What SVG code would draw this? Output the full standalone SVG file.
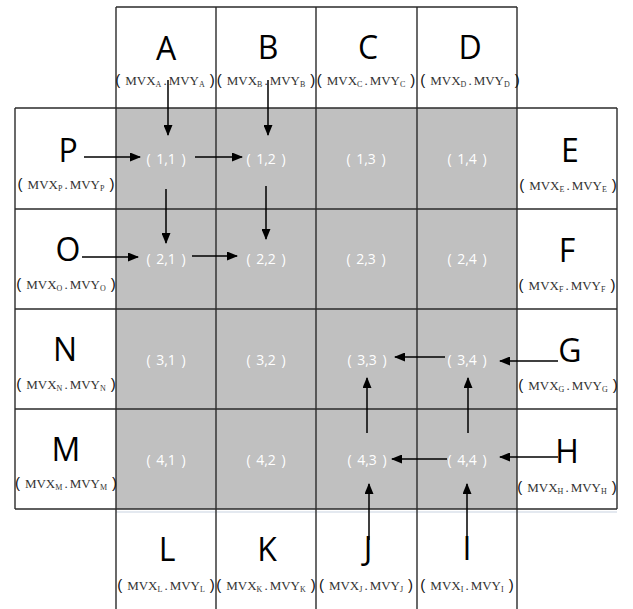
<svg xmlns="http://www.w3.org/2000/svg" width="633" height="609" viewBox="0 0 633 609">
<style>
.big{font-family:"Open Sans","Noto Sans",sans-serif;font-size:32px;fill:#000;text-anchor:middle}
.sub{font-family:"Liberation Serif","Times New Roman",serif;font-size:13px;fill:#333;text-anchor:middle}
.s{font-size:8px}
.p{font-family:"Liberation Sans",sans-serif;font-size:15px;fill:#111}
.cell{font-family:"Open Sans","Noto Sans",sans-serif;font-size:14px;fill:#fff;text-anchor:middle;word-spacing:2px}
.grid{stroke:#2a2a2a;stroke-width:1.4;fill:none}
.arr{stroke:#000;stroke-width:1.5;fill:none;marker-end:url(#ah)}
</style>
<defs>
<marker id="ah" markerUnits="userSpaceOnUse" markerWidth="11" markerHeight="9" refX="10" refY="4.5" orient="auto">
<path d="M0,0 L11,4.5 L0,9 Z" fill="#000"/>
</marker>
</defs>
<rect x="0" y="0" width="633" height="609" fill="#fff"/>
<rect x="116" y="108" width="401" height="401" fill="#c0c0c0"/>
<line x1="116" y1="512" x2="617" y2="512" stroke="#e4e9f0" stroke-width="2"/>
<g id="gridlines" class="grid">
<line x1="116" y1="7" x2="517" y2="7"/>
<line x1="15" y1="108" x2="617" y2="108"/>
<line x1="15" y1="209" x2="617" y2="209"/>
<line x1="15" y1="309" x2="617" y2="309"/>
<line x1="15" y1="409" x2="617" y2="409"/>
<line x1="15" y1="509" x2="617" y2="509"/>
<line x1="116" y1="7" x2="116" y2="609"/>
<line x1="216" y1="7" x2="216" y2="609"/>
<line x1="316" y1="7" x2="316" y2="609"/>
<line x1="417" y1="7" x2="417" y2="609"/>
<line x1="517" y1="7" x2="517" y2="609"/>
<line x1="15" y1="108" x2="15" y2="509"/>
<line x1="617" y1="108" x2="617" y2="509"/>
</g>
<g id="node-A"><text class="big" x="166" y="60">A</text><text class="sub" x="165" y="85"><tspan class="p">(</tspan><tspan dx="5">MVX</tspan><tspan class="s" dy="2">A</tspan><tspan dy="-2" dx="2">.</tspan><tspan dx="2">MVY</tspan><tspan class="s" dy="2">A</tspan><tspan class="p" dy="-2" dx="5">)</tspan></text></g>
<g id="node-B"><text class="big" x="268" y="59">B</text><text class="sub" x="266" y="85"><tspan class="p">(</tspan><tspan dx="5">MVX</tspan><tspan class="s" dy="2">B</tspan><tspan dy="-2" dx="2">.</tspan><tspan dx="2">MVY</tspan><tspan class="s" dy="2">B</tspan><tspan class="p" dy="-2" dx="5">)</tspan></text></g>
<g id="node-C"><text class="big" x="368" y="59">C</text><text class="sub" x="366" y="85"><tspan class="p">(</tspan><tspan dx="5">MVX</tspan><tspan class="s" dy="2">C</tspan><tspan dy="-2" dx="2">.</tspan><tspan dx="2">MVY</tspan><tspan class="s" dy="2">C</tspan><tspan class="p" dy="-2" dx="5">)</tspan></text></g>
<g id="node-D"><text class="big" x="470" y="59">D</text><text class="sub" x="470" y="85"><tspan class="p">(</tspan><tspan dx="5">MVX</tspan><tspan class="s" dy="2">D</tspan><tspan dy="-2" dx="2">.</tspan><tspan dx="2">MVY</tspan><tspan class="s" dy="2">D</tspan><tspan class="p" dy="-2" dx="5">)</tspan></text></g>
<g id="node-P"><text class="big" x="68" y="162">P</text><text class="sub" x="66" y="189"><tspan class="p">(</tspan><tspan dx="5">MVX</tspan><tspan class="s" dy="2">P</tspan><tspan dy="-2" dx="2">.</tspan><tspan dx="2">MVY</tspan><tspan class="s" dy="2">P</tspan><tspan class="p" dy="-2" dx="5">)</tspan></text></g>
<g id="node-O"><text class="big" x="68" y="261">O</text><text class="sub" x="66" y="289"><tspan class="p">(</tspan><tspan dx="5">MVX</tspan><tspan class="s" dy="2">O</tspan><tspan dy="-2" dx="2">.</tspan><tspan dx="2">MVY</tspan><tspan class="s" dy="2">O</tspan><tspan class="p" dy="-2" dx="5">)</tspan></text></g>
<g id="node-N"><text class="big" x="65" y="361">N</text><text class="sub" x="66" y="389"><tspan class="p">(</tspan><tspan dx="5">MVX</tspan><tspan class="s" dy="2">N</tspan><tspan dy="-2" dx="2">.</tspan><tspan dx="2">MVY</tspan><tspan class="s" dy="2">N</tspan><tspan class="p" dy="-2" dx="5">)</tspan></text></g>
<g id="node-M"><text class="big" x="66" y="461">M</text><text class="sub" x="66" y="488"><tspan class="p">(</tspan><tspan dx="5">MVX</tspan><tspan class="s" dy="2">M</tspan><tspan dy="-2" dx="2">.</tspan><tspan dx="2">MVY</tspan><tspan class="s" dy="2">M</tspan><tspan class="p" dy="-2" dx="5">)</tspan></text></g>
<g id="node-E"><text class="big" x="570" y="162">E</text><text class="sub" x="568" y="190"><tspan class="p">(</tspan><tspan dx="5">MVX</tspan><tspan class="s" dy="2">E</tspan><tspan dy="-2" dx="2">.</tspan><tspan dx="2">MVY</tspan><tspan class="s" dy="2">E</tspan><tspan class="p" dy="-2" dx="5">)</tspan></text></g>
<g id="node-F"><text class="big" x="567" y="262">F</text><text class="sub" x="567" y="290"><tspan class="p">(</tspan><tspan dx="5">MVX</tspan><tspan class="s" dy="2">F</tspan><tspan dy="-2" dx="2">.</tspan><tspan dx="2">MVY</tspan><tspan class="s" dy="2">F</tspan><tspan class="p" dy="-2" dx="5">)</tspan></text></g>
<g id="node-G"><text class="big" x="570" y="362">G</text><text class="sub" x="568" y="390"><tspan class="p">(</tspan><tspan dx="5">MVX</tspan><tspan class="s" dy="2">G</tspan><tspan dy="-2" dx="2">.</tspan><tspan dx="2">MVY</tspan><tspan class="s" dy="2">G</tspan><tspan class="p" dy="-2" dx="5">)</tspan></text></g>
<g id="node-H"><text class="big" x="567" y="463">H</text><text class="sub" x="567" y="492"><tspan class="p">(</tspan><tspan dx="5">MVX</tspan><tspan class="s" dy="2">H</tspan><tspan dy="-2" dx="2">.</tspan><tspan dx="2">MVY</tspan><tspan class="s" dy="2">H</tspan><tspan class="p" dy="-2" dx="5">)</tspan></text></g>
<g id="node-L"><text class="big" x="167" y="561">L</text><text class="sub" x="166" y="590"><tspan class="p">(</tspan><tspan dx="5">MVX</tspan><tspan class="s" dy="2">L</tspan><tspan dy="-2" dx="2">.</tspan><tspan dx="2">MVY</tspan><tspan class="s" dy="2">L</tspan><tspan class="p" dy="-2" dx="5">)</tspan></text></g>
<g id="node-K"><text class="big" x="267" y="561">K</text><text class="sub" x="266" y="590"><tspan class="p">(</tspan><tspan dx="5">MVX</tspan><tspan class="s" dy="2">K</tspan><tspan dy="-2" dx="2">.</tspan><tspan dx="2">MVY</tspan><tspan class="s" dy="2">K</tspan><tspan class="p" dy="-2" dx="5">)</tspan></text></g>
<g id="node-J"><text class="big" x="368" y="560">J</text><text class="sub" x="366" y="590"><tspan class="p">(</tspan><tspan dx="5">MVX</tspan><tspan class="s" dy="2">J</tspan><tspan dy="-2" dx="2">.</tspan><tspan dx="2">MVY</tspan><tspan class="s" dy="2">J</tspan><tspan class="p" dy="-2" dx="5">)</tspan></text></g>
<g id="node-I"><text class="big" x="467" y="560">I</text><text class="sub" x="467" y="590"><tspan class="p">(</tspan><tspan dx="5">MVX</tspan><tspan class="s" dy="2">I</tspan><tspan dy="-2" dx="2">.</tspan><tspan dx="2">MVY</tspan><tspan class="s" dy="2">I</tspan><tspan class="p" dy="-2" dx="5">)</tspan></text></g>
<g id="cell-1-1"><text class="cell" x="166" y="164">( 1,1 )</text></g>
<g id="cell-1-2"><text class="cell" x="266" y="164">( 1,2 )</text></g>
<g id="cell-1-3"><text class="cell" x="366" y="164">( 1,3 )</text></g>
<g id="cell-1-4"><text class="cell" x="467" y="164">( 1,4 )</text></g>
<g id="cell-2-1"><text class="cell" x="166" y="264">( 2,1 )</text></g>
<g id="cell-2-2"><text class="cell" x="266" y="264">( 2,2 )</text></g>
<g id="cell-2-3"><text class="cell" x="366" y="264">( 2,3 )</text></g>
<g id="cell-2-4"><text class="cell" x="467" y="264">( 2,4 )</text></g>
<g id="cell-3-1"><text class="cell" x="166" y="365">( 3,1 )</text></g>
<g id="cell-3-2"><text class="cell" x="266" y="365">( 3,2 )</text></g>
<g id="cell-3-3"><text class="cell" x="367" y="365">( 3,3 )</text></g>
<g id="cell-3-4"><text class="cell" x="467" y="365">( 3,4 )</text></g>
<g id="cell-4-1"><text class="cell" x="166" y="465">( 4,1 )</text></g>
<g id="cell-4-2"><text class="cell" x="266" y="465">( 4,2 )</text></g>
<g id="cell-4-3"><text class="cell" x="367" y="465">( 4,3 )</text></g>
<g id="cell-4-4"><text class="cell" x="467" y="465">( 4,4 )</text></g>
<g id="connectors">
<line class="arr" x1="168" y1="80" x2="168" y2="135"/>
<line class="arr" x1="268" y1="80" x2="268" y2="135"/>
<line class="arr" x1="84" y1="157" x2="140" y2="157"/>
<line class="arr" x1="82" y1="257" x2="138" y2="257"/>
<line class="arr" x1="195" y1="157" x2="242" y2="157"/>
<line class="arr" x1="192" y1="256" x2="237" y2="256"/>
<line class="arr" x1="166" y1="189" x2="166" y2="243"/>
<line class="arr" x1="266" y1="186" x2="266" y2="239"/>
<line class="arr" x1="558" y1="361" x2="500" y2="361"/>
<line class="arr" x1="558" y1="457" x2="500" y2="457"/>
<line class="arr" x1="445" y1="357" x2="395" y2="357"/>
<line class="arr" x1="447" y1="459" x2="392" y2="459"/>
<line class="arr" x1="468" y1="433" x2="468" y2="378"/>
<line class="arr" x1="367" y1="433" x2="367" y2="378"/>
<line class="arr" x1="369" y1="540" x2="369" y2="484"/>
<line class="arr" x1="467" y1="540" x2="467" y2="484"/>
</g>
</svg>
